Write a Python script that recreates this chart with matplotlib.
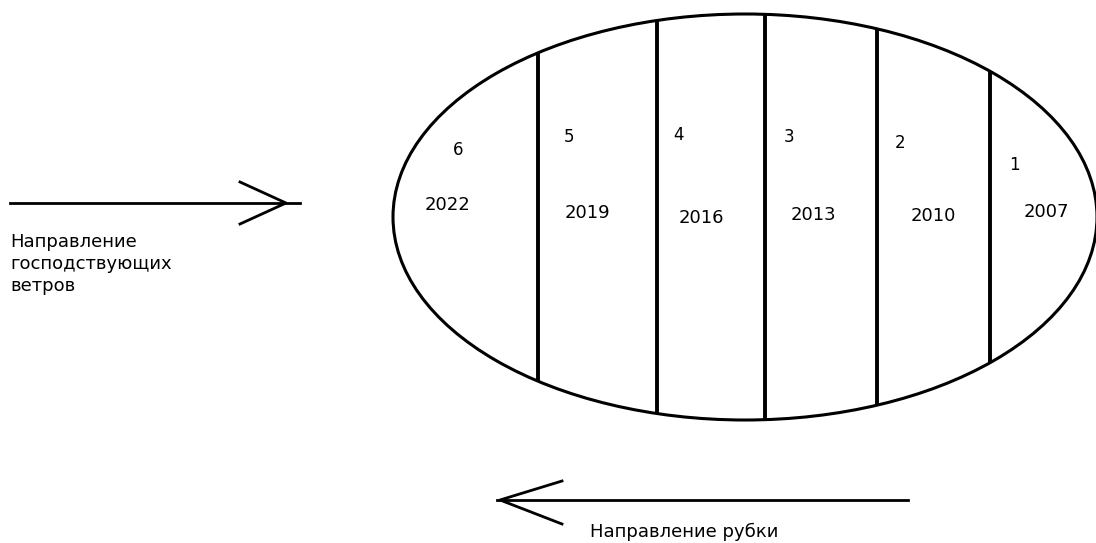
import numpy as np
import matplotlib.pyplot as plt
from matplotlib.patches import Ellipse

# Plot numbers (right to left = order of cutting) and cutting years
plot_numbers = ["6", "5", "4", "3", "2", "1"]
cut_years = ["2022", "2019", "2016", "2013", "2010", "2007"]

wind_label = "Направление\nгосподствующих\nветров"
cut_label = "Направление рубки"

# Layout (pixel coordinates, y down)
W, H = 1096, 543
cx, cy, a, b = 745, 217, 352, 203
strip_x = [538, 657, 765, 877, 990]
num_pos = [(458, 150), (569, 137), (678, 135), (789, 137), (900, 143), (1014, 165)]
year_pos = [(447, 205), (587, 213), (701, 218), (813, 215), (933, 216), (1046, 212)]

plt.rcParams['font.family'] = ['DejaVu Sans']

fig = plt.figure(figsize=(W / 100, H / 100), dpi=100)
ax = fig.add_axes([0, 0, 1, 1])
ax.set_xlim(0, W)
ax.set_ylim(H, 0)
ax.axis("off")

# Felling area outline
ax.add_patch(Ellipse((cx, cy), 2 * a, 2 * b, fill=False, lw=2.2, color="black"))

# Strip boundaries, clipped to the ellipse
for x in strip_x:
    dy = b * np.sqrt(1 - ((x - cx) / a) ** 2)
    ax.plot([x, x], [cy - dy, cy + dy], color="black", lw=2.8, solid_capstyle="butt")

for n, (x, y) in zip(plot_numbers, num_pos):
    ax.text(x, y, n, fontsize=12, ha="center", va="center")
for yr, (x, y) in zip(cut_years, year_pos):
    ax.text(x, y, yr, fontsize=13, ha="center", va="center")

# Prevailing wind arrow
ax.plot([10, 300], [203, 203], color="black", lw=2)
ax.plot([240, 286, 240], [182, 203, 224], color="black", lw=2)
ax.text(10, 233, wind_label, fontsize=13, ha="left", va="top", linespacing=1.3)

# Cutting direction arrow
ax.plot([908, 497], [500, 500], color="black", lw=2)
ax.plot([562, 500, 562], [481, 500, 524], color="black", lw=2)
ax.text(590, 532, cut_label, fontsize=13, ha="left", va="center")

fig.savefig("out.png", dpi=100)
